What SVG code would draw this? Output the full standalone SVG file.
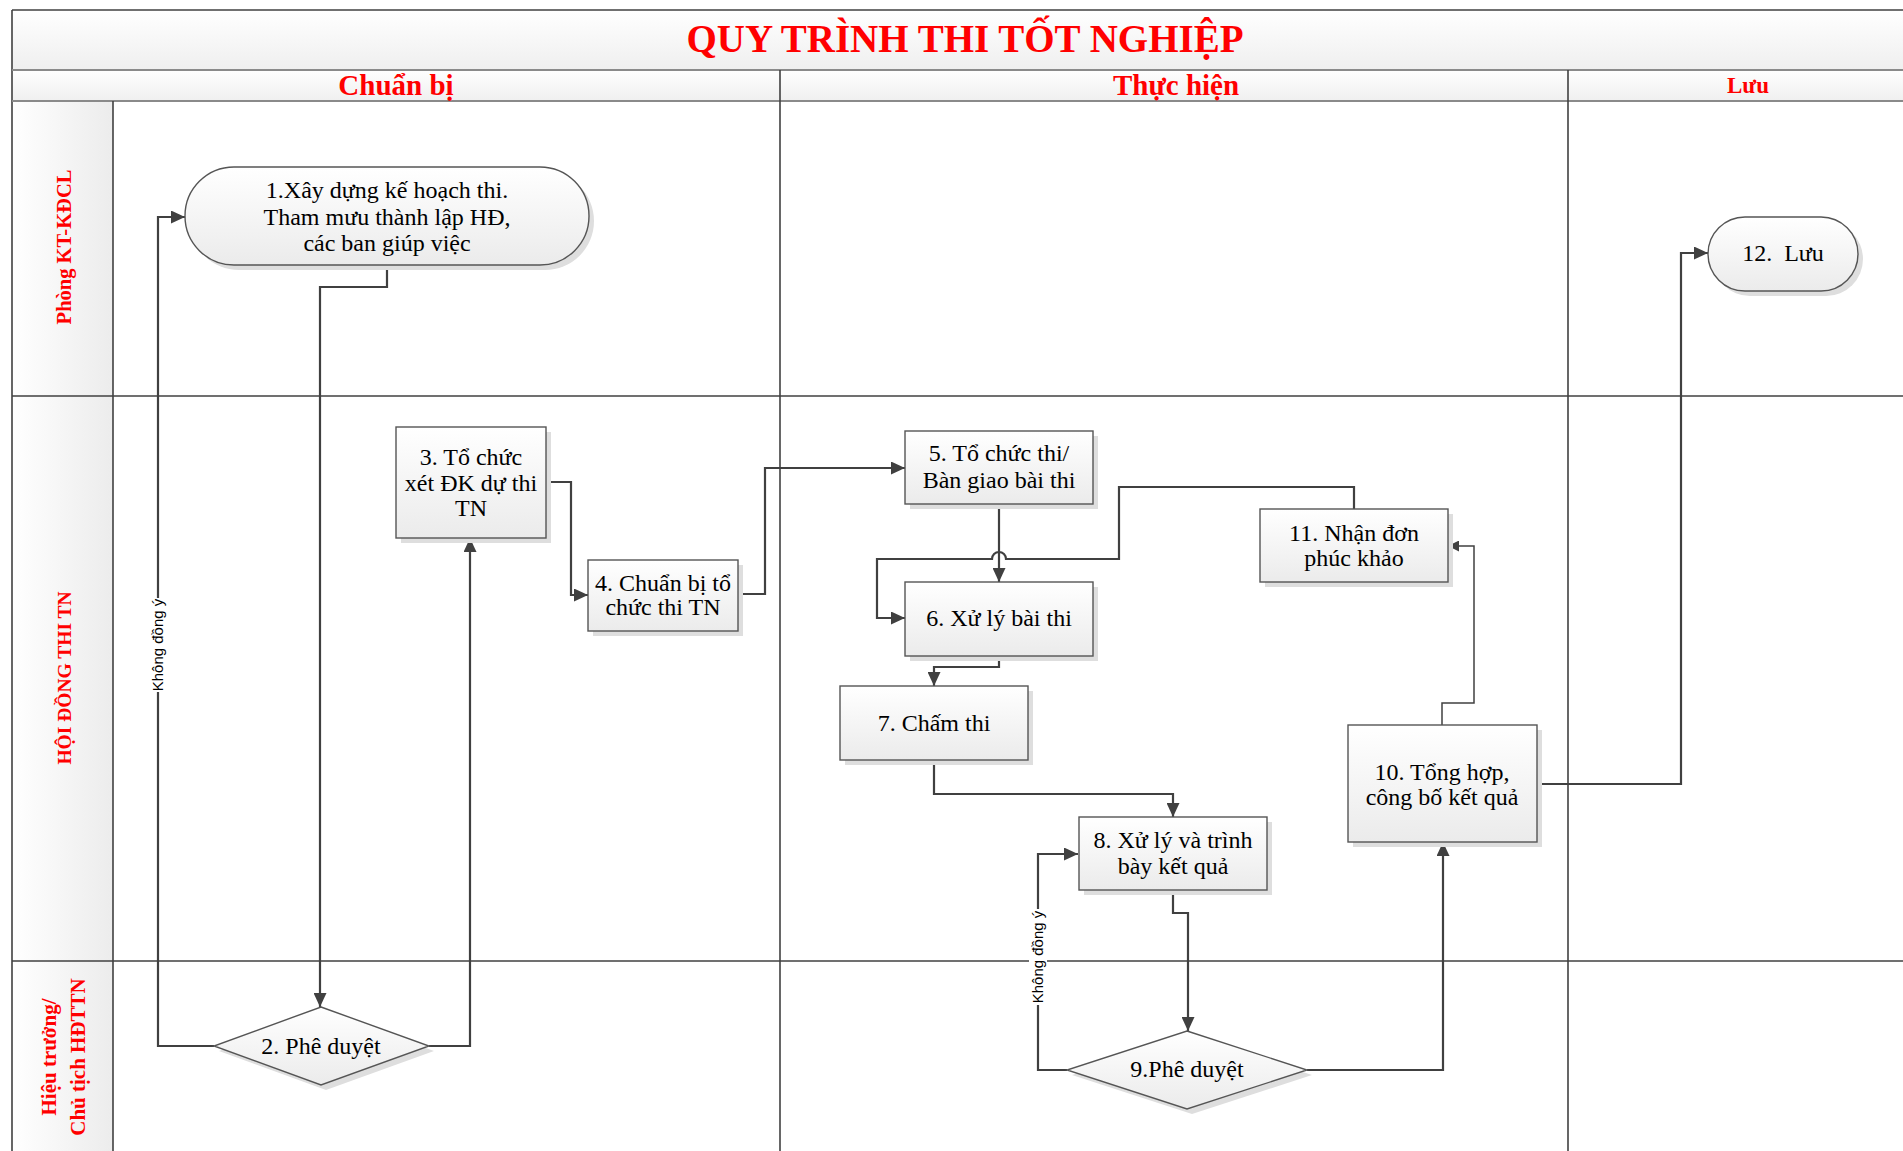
<svg xmlns="http://www.w3.org/2000/svg" width="1903" height="1151" viewBox="0 0 1903 1151">
<defs>
<linearGradient id="gNode" x1="0" y1="0" x2="0" y2="1"><stop offset="0" stop-color="#ffffff"/><stop offset="1" stop-color="#ebebeb"/></linearGradient>
<linearGradient id="gBand" x1="0" y1="0" x2="0" y2="1"><stop offset="0" stop-color="#ffffff"/><stop offset="1" stop-color="#efefef"/></linearGradient>
<linearGradient id="gLane" x1="0" y1="0" x2="1" y2="0"><stop offset="0" stop-color="#ffffff"/><stop offset="1" stop-color="#ececec"/></linearGradient>
<marker id="arr" markerWidth="14" markerHeight="13" refX="14" refY="6.5" orient="auto" markerUnits="userSpaceOnUse"><path d="M0,0 L14,6.5 L0,13 Z" fill="#404040"/></marker>
<marker id="arrS" markerWidth="11" markerHeight="11" refX="11" refY="5.5" orient="auto" markerUnits="userSpaceOnUse"><path d="M0,0 L11,5.5 L0,11 Z" fill="#404040"/></marker>
</defs>
<style>
.frame{stroke:#404040;stroke-width:1.6;fill:none}
.band{stroke:#8a8a8a;stroke-width:2;fill:none}
.box{fill:url(#gNode);stroke:#555;stroke-width:1.4}
.shd{fill:#dedede}
.t{font-family:"Liberation Serif","Times New Roman",serif;font-size:24px;fill:#000;text-anchor:middle}
.red{font-family:"Liberation Serif","Times New Roman",serif;font-weight:bold;fill:#ff0000;text-anchor:middle}
.c{fill:none;stroke:#404040;stroke-width:2.2}
.cs{fill:none;stroke:#404040;stroke-width:1.5}
.lbl{font-family:"Liberation Sans",Arial,sans-serif;font-size:15px;fill:#000;text-anchor:middle}
</style>
<rect width="1903" height="1151" fill="#ffffff"/>
<g id="pool">
<rect x="12" y="10" width="1920" height="60" fill="url(#gBand)"/>
<rect x="12" y="70" width="1920" height="31" fill="url(#gBand)"/>
<rect x="12" y="101" width="101" height="1060" fill="url(#gLane)"/>
<line x1="12" y1="10" x2="1903" y2="10" class="frame" stroke-width="2.2"/>
<line x1="12" y1="10" x2="12" y2="1151" class="frame"/>
<line x1="12" y1="70" x2="1903" y2="70" class="band"/>
<line x1="12" y1="101" x2="1903" y2="101" class="band"/>
<line x1="113" y1="101" x2="113" y2="1151" class="frame"/>
<line x1="780" y1="70" x2="780" y2="1151" class="frame"/>
<line x1="1568" y1="70" x2="1568" y2="1151" class="frame"/>
<line x1="12" y1="396" x2="1903" y2="396" class="frame"/>
<line x1="12" y1="961" x2="1903" y2="961" class="frame"/>
<text class="red" x="965" y="52" font-size="39">QUY TRÌNH THI TỐT NGHIỆP</text>
<text class="red" x="396" y="95" font-size="29">Chuẩn bị</text>
<text class="red" x="1176" y="95" font-size="29">Thực hiện</text>
<text class="red" x="1748" y="93" font-size="23">Lưu</text>
<g transform="translate(0,247) rotate(-90)"><text class="red" x="0" y="71" font-size="20.5">Phòng KT-KĐCL</text></g>
<g transform="translate(0,678) rotate(-90)"><text class="red" x="0" y="71" font-size="19.5">HỘI ĐỒNG THI TN</text></g>
<g transform="translate(0,1057) rotate(-90)"><text class="red" x="0" y="56" font-size="21">Hiệu trưởng/</text><text class="red" x="0" y="85" font-size="21">Chủ tịch HĐTTN</text></g>
</g>
<g id="connectors">
<path class="c" d="M387,265 V287 H320 V1007" marker-end="url(#arr)"/>
<path class="c" d="M214,1046 H158 V217 H185" marker-end="url(#arr)"/>
<g transform="translate(158,645) rotate(-90)"><rect x="-47" y="-9" width="94" height="18" fill="#ffffff"/><text class="lbl" x="0" y="5">Không đồng ý</text></g>
<path class="c" d="M429,1046 H470 V538" marker-end="url(#arr)"/>
<path class="c" d="M546,482 H571 V595 H588" marker-end="url(#arr)"/>
<path class="c" d="M738,594 H765 V468 H905" marker-end="url(#arr)"/>
<path class="c" d="M999,504 V582" marker-end="url(#arr)"/>
<path class="c" d="M1354,509 V487 H1119 V559 H1006 A7,7 0 0 0 992,559 H877 V618 H905" marker-end="url(#arr)"/>
<path class="c" d="M999,656 V667 H934 V686" marker-end="url(#arr)"/>
<path class="c" d="M934,760 V794 H1173 V817" marker-end="url(#arr)"/>
<path class="c" d="M1173,890 V913 H1188 V1031" marker-end="url(#arr)"/>
<path class="c" d="M1067,1070 H1038 V854 H1078" marker-end="url(#arr)"/>
<g transform="translate(1038,957) rotate(-90)"><rect x="-48" y="-9" width="96" height="18" fill="#ffffff"/><text class="lbl" x="0" y="5">Không đồng ý</text></g>
<path class="c" d="M1307,1070 H1443 V842" marker-end="url(#arr)"/>
<path class="cs" d="M1442,725 V703 H1474 V546 H1448" marker-end="url(#arrS)"/>
<path class="c" d="M1537,784 H1681 V253 H1708" marker-end="url(#arr)"/>
</g>
<g id="n1">
<rect class="shd" x="190" y="172" width="404" height="98" rx="49"/>
<rect class="box" x="185" y="167" width="404" height="98" rx="49"/>
<text class="t" x="387" y="198">1.Xây dựng kế hoạch thi.</text>
<text class="t" x="387" y="225">Tham mưu thành lập HĐ,</text>
<text class="t" x="387" y="251">các ban giúp việc</text>
</g>
<g id="n2">
<polygon class="shd" points="326,1012 434,1051 326,1090 219,1051"/>
<polygon class="box" points="321,1007 429,1046 321,1085 214,1046"/>
<text class="t" x="321" y="1054">2. Phê duyệt</text>
</g>
<g id="n3">
<rect class="shd" x="401" y="432" width="150" height="111"/>
<rect class="box" x="396" y="427" width="150" height="111"/>
<text class="t" x="471" y="465">3. Tổ chức</text>
<text class="t" x="471" y="491">xét ĐK dự thi</text>
<text class="t" x="471" y="516">TN</text>
</g>
<g id="n4">
<rect class="shd" x="593" y="565" width="150" height="71"/>
<rect class="box" x="588" y="560" width="150" height="71"/>
<text class="t" x="663" y="591">4. Chuẩn bị tổ</text>
<text class="t" x="663" y="615">chức thi TN</text>
</g>
<g id="n5">
<rect class="shd" x="910" y="436" width="188" height="73"/>
<rect class="box" x="905" y="431" width="188" height="73"/>
<text class="t" x="999" y="461">5. Tổ chức thi/</text>
<text class="t" x="999" y="488">Bàn giao bài thi</text>
</g>
<g id="n6">
<rect class="shd" x="910" y="587" width="188" height="74"/>
<rect class="box" x="905" y="582" width="188" height="74"/>
<text class="t" x="999" y="626">6. Xử lý bài thi</text>
</g>
<g id="n7">
<rect class="shd" x="845" y="691" width="188" height="74"/>
<rect class="box" x="840" y="686" width="188" height="74"/>
<text class="t" x="934" y="731">7. Chấm thi</text>
</g>
<g id="n8">
<rect class="shd" x="1084" y="822" width="188" height="73"/>
<rect class="box" x="1079" y="817" width="188" height="73"/>
<text class="t" x="1173" y="848">8. Xử lý và trình</text>
<text class="t" x="1173" y="874">bày kết quả</text>
</g>
<g id="n9">
<polygon class="shd" points="1192,1036 1312,1075 1192,1114 1072,1075"/>
<polygon class="box" points="1187,1031 1307,1070 1187,1109 1067,1070"/>
<text class="t" x="1187" y="1077">9.Phê duyệt</text>
</g>
<g id="n10">
<rect class="shd" x="1353" y="730" width="189" height="117"/>
<rect class="box" x="1348" y="725" width="189" height="117"/>
<text class="t" x="1442" y="780">10. Tổng hợp,</text>
<text class="t" x="1442" y="805">công bố kết quả</text>
</g>
<g id="n11">
<rect class="shd" x="1265" y="514" width="188" height="73"/>
<rect class="box" x="1260" y="509" width="188" height="73"/>
<text class="t" x="1354" y="541">11. Nhận đơn</text>
<text class="t" x="1354" y="566">phúc khảo</text>
</g>
<g id="n12">
<rect class="shd" x="1713" y="222" width="150" height="74" rx="37"/>
<rect class="box" x="1708" y="217" width="150" height="74" rx="37"/>
<text class="t" x="1783" y="261">12.&#160; Lưu</text>
</g>
</svg>
